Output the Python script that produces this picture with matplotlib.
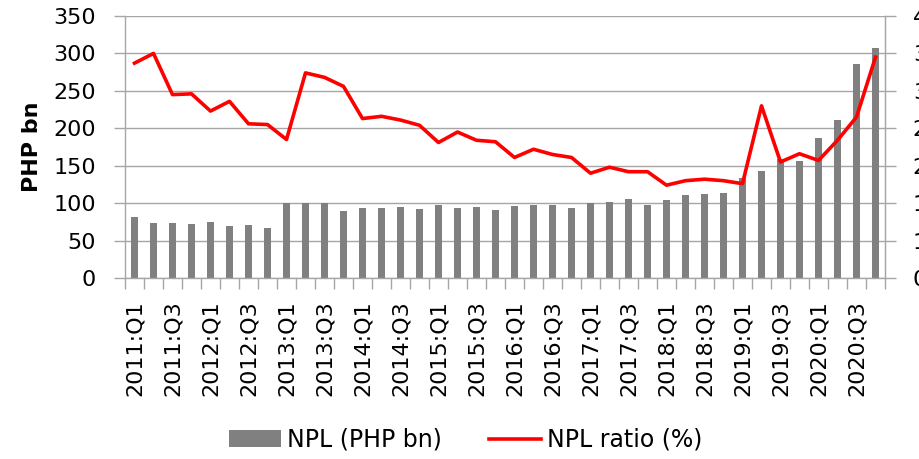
import matplotlib
matplotlib.use("Agg")
import matplotlib.pyplot as plt
import numpy as np
from matplotlib.ticker import FixedLocator, FormatStrFormatter

years = list(range(2011, 2021))
quarters = [f"{y}:Q{q}" for y in years for q in range(1, 5)]

npl = [81.7, 74, 74, 72, 75.4, 69, 70.5, 67.4, 100, 100.5, 100, 90,
       93, 94, 95.5, 92.4, 97, 93.3, 94.6, 91,
       96.4, 97.8, 97.8, 93.3, 100, 100.9, 104.9, 96.9, 103.6, 110.3,
       112, 113, 133.9, 143, 158.5, 156, 186.6, 211, 286, 307.6]

npl_ratio = [3.37, 3.50, 2.95, 2.96, 2.73, 2.86, 2.56, 2.55, 2.35, 3.24,
             3.18, 3.06, 2.63, 2.66, 2.61, 2.54, 2.31, 2.45, 2.34, 2.32,
             2.11, 2.22, 2.15, 2.11, 1.90, 1.98, 1.92, 1.92, 1.74, 1.80,
             1.82, 1.80, 1.76, 2.80, 2.05, 2.16, 2.07, 2.34, 2.65, 3.45]

left_ticks = [0, 50, 100, 150, 200, 250, 300, 350]
right_ticks = [0.5, 1.0, 1.5, 2.0, 2.5, 3.0, 3.5, 4.0]

plt.rcParams['font.family'] = ['DejaVu Sans']
FS = 16
grid_c = '#a6a6a6'

fig = plt.figure(figsize=(9.2, 4.59), dpi=100)
ax = fig.add_axes([125/920, 1-278/459, 760/920, 262/459])
x = np.arange(len(quarters))

bars = ax.bar(x, npl, width=0.42, color='#808080', label='NPL (PHP bn)', zorder=2)
ax.set_xlim(-0.5, len(quarters) - 0.5)
ax.set_ylim(0, 350)
ax.set_yticks(left_ticks)
ax.yaxis.grid(True, color=grid_c, linewidth=1.0, zorder=0)
ax.set_axisbelow(True)

# x ticks: marks at boundaries, labels every other quarter
ax.xaxis.set_major_locator(FixedLocator(np.arange(-0.5, len(quarters), 1.0)))
ax.xaxis.set_major_formatter(plt.NullFormatter())
ax.xaxis.set_minor_locator(FixedLocator(x[::2]))
ax.set_xticklabels(quarters[::2], minor=True, rotation=90, fontsize=FS)
ax.tick_params(axis='x', which='major', length=8, width=1, color=grid_c)
ax.tick_params(axis='x', which='minor', length=0, pad=16)
ax.tick_params(axis='y', length=8, width=1, color=grid_c, labelsize=FS, pad=13)

for s in ['top']:
    ax.spines[s].set_visible(False)
for s in ['left', 'bottom', 'right']:
    ax.spines[s].set_color(grid_c)
    ax.spines[s].set_linewidth(1.0)

ax.set_ylabel('PHP bn', fontsize=FS, fontweight='bold', labelpad=8)

ax2 = ax.twinx()
line, = ax2.plot(x, npl_ratio, color='#ff0000', linewidth=2.6, label='NPL ratio (%)', zorder=3)
ax2.set_ylim(0.5, 4.0)
ax2.set_yticks(right_ticks)
ax2.yaxis.set_major_formatter(FormatStrFormatter('%.1f'))
ax2.tick_params(axis='y', length=8, width=1, color=grid_c, labelsize=FS, pad=12)
for s in ['top', 'left', 'bottom']:
    ax2.spines[s].set_visible(False)
ax2.spines['right'].set_color(grid_c)

fig.legend([bars, line], ['NPL (PHP bn)', 'NPL ratio (%)'], loc='center',
           bbox_to_anchor=(466/920, 1-440/459), ncol=2, frameon=False,
           fontsize=17, handlelength=2.2, handletextpad=0.25, columnspacing=2.0)

fig.savefig('out.png', dpi=100)
